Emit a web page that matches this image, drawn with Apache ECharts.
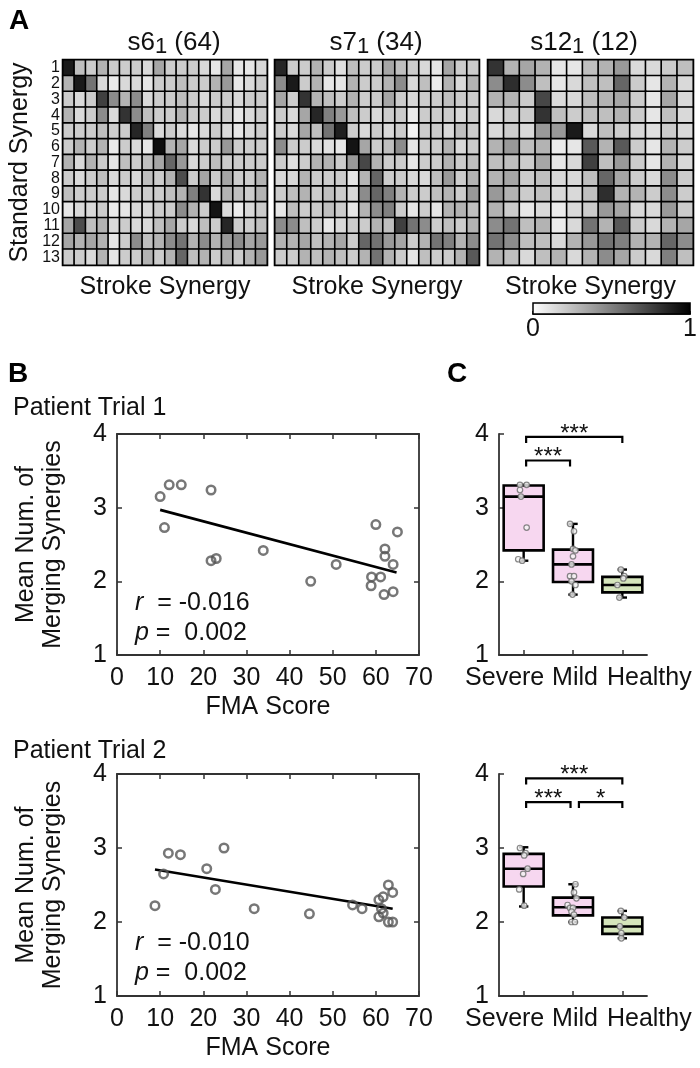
<!DOCTYPE html>
<html><head><meta charset="utf-8">
<script src="https://cdn.jsdelivr.net/npm/echarts@6/dist/echarts.min.js"></script>
<style>html,body{margin:0;padding:0;background:#fff}#c{width:700px;height:1068px}</style>
</head><body><div id="c"></div><script>
const FONT = "'Liberation Sans', Arial, Helvetica, sans-serif";

// ---------- Panel A: similarity matrices (rows = standard synergy 1..13) ----------
const synergyRows = ['1','2','3','4','5','6','7','8','9','10','11','12','13'];
const heatNames = ['s6', 's7', 's12'];
const heatCounts = [64, 34, 12];
const s6 = [
  [0.9,0.25,0.2,0.3,0.2,0.2,0.2,0.15,0.35,0.2,0.2,0.2,0.15,0.1,0.35,0.1,0.1,0.15],
  [0.3,0.9,0.55,0.15,0.08,0.15,0.15,0.1,0.2,0.2,0.25,0.2,0.2,0.3,0.4,0.1,0.15,0.2],
  [0.2,0.15,0.2,0.75,0.45,0.3,0.45,0.15,0.2,0.2,0.25,0.2,0.15,0.2,0.2,0.15,0.2,0.2],
  [0.3,0.15,0.2,0.45,0.15,0.8,0.45,0.25,0.2,0.2,0.3,0.2,0.2,0.15,0.2,0.1,0.15,0.2],
  [0.2,0.2,0.2,0.25,0.2,0.2,0.85,0.5,0.15,0.2,0.15,0.1,0.15,0.2,0.15,0.1,0.15,0.2],
  [0.2,0.3,0.2,0.3,0.08,0.2,0.15,0.1,0.95,0.3,0.35,0.15,0.2,0.2,0.4,0.2,0.2,0.2],
  [0.3,0.15,0.3,0.2,0.1,0.25,0.2,0.25,0.35,0.6,0.4,0.15,0.2,0.25,0.2,0.2,0.2,0.2],
  [0.2,0.15,0.2,0.25,0.15,0.2,0.15,0.25,0.2,0.3,0.7,0.2,0.35,0.2,0.35,0.2,0.2,0.3],
  [0.25,0.2,0.2,0.2,0.1,0.15,0.2,0.2,0.2,0.25,0.3,0.5,0.8,0.15,0.3,0.25,0.2,0.3],
  [0.1,0.15,0.15,0.2,0.08,0.1,0.15,0.15,0.2,0.2,0.45,0.3,0.2,0.92,0.15,0.08,0.15,0.2],
  [0.35,0.7,0.25,0.3,0.15,0.2,0.15,0.15,0.25,0.35,0.2,0.15,0.25,0.2,0.85,0.2,0.2,0.25],
  [0.35,0.3,0.35,0.3,0.1,0.2,0.45,0.25,0.3,0.45,0.55,0.3,0.45,0.3,0.4,0.45,0.35,0.4],
  [0.2,0.2,0.15,0.3,0.1,0.2,0.2,0.3,0.2,0.3,0.6,0.25,0.3,0.2,0.3,0.2,0.3,0.4]
];
const s7 = [
  [0.85,0.2,0.2,0.3,0.2,0.12,0.25,0.2,0.2,0.35,0.25,0.2,0.15,0.1,0.35,0.2,0.2],
  [0.45,0.9,0.2,0.3,0.1,0.1,0.3,0.2,0.2,0.3,0.45,0.15,0.25,0.08,0.3,0.15,0.3],
  [0.35,0.2,0.8,0.3,0.25,0.2,0.3,0.2,0.2,0.35,0.2,0.15,0.2,0.2,0.25,0.2,0.2],
  [0.2,0.15,0.35,0.85,0.5,0.4,0.25,0.2,0.15,0.2,0.2,0.08,0.2,0.2,0.2,0.15,0.2],
  [0.2,0.15,0.35,0.25,0.55,0.88,0.2,0.15,0.2,0.15,0.2,0.05,0.2,0.2,0.15,0.25,0.2],
  [0.45,0.2,0.2,0.15,0.12,0.1,0.92,0.35,0.2,0.25,0.45,0.1,0.2,0.2,0.3,0.15,0.2],
  [0.2,0.12,0.2,0.3,0.3,0.2,0.4,0.72,0.3,0.2,0.2,0.1,0.2,0.2,0.3,0.2,0.25],
  [0.15,0.15,0.3,0.2,0.2,0.2,0.1,0.3,0.6,0.2,0.2,0.15,0.15,0.25,0.4,0.2,0.3],
  [0.2,0.25,0.3,0.2,0.25,0.2,0.15,0.45,0.6,0.5,0.3,0.2,0.2,0.25,0.3,0.2,0.4],
  [0.1,0.25,0.2,0.2,0.25,0.2,0.1,0.3,0.45,0.5,0.2,0.1,0.2,0.1,0.3,0.3,0.25],
  [0.45,0.45,0.25,0.2,0.1,0.15,0.2,0.2,0.3,0.25,0.75,0.55,0.45,0.2,0.25,0.2,0.3],
  [0.3,0.3,0.35,0.25,0.3,0.35,0.2,0.6,0.55,0.4,0.35,0.2,0.3,0.55,0.5,0.3,0.45],
  [0.2,0.2,0.3,0.25,0.3,0.25,0.2,0.3,0.55,0.3,0.2,0.1,0.25,0.2,0.2,0.3,0.65]
];
const s12 = [
  [0.8,0.3,0.35,0.3,0.1,0.1,0.25,0.3,0.4,0.15,0.15,0.2,0.25],
  [0.45,0.82,0.45,0.25,0.1,0.15,0.25,0.25,0.6,0.2,0.1,0.3,0.15],
  [0.3,0.3,0.2,0.72,0.15,0.15,0.25,0.3,0.35,0.2,0.1,0.35,0.15],
  [0.15,0.2,0.2,0.8,0.25,0.2,0.25,0.25,0.3,0.2,0.1,0.25,0.15],
  [0.15,0.2,0.15,0.4,0.4,0.9,0.15,0.25,0.2,0.15,0.12,0.2,0.15],
  [0.3,0.4,0.25,0.3,0.08,0.1,0.65,0.3,0.65,0.2,0.1,0.3,0.2],
  [0.25,0.25,0.2,0.35,0.1,0.15,0.75,0.25,0.4,0.2,0.1,0.3,0.15],
  [0.3,0.35,0.2,0.25,0.15,0.15,0.25,0.6,0.35,0.2,0.15,0.45,0.2],
  [0.4,0.3,0.2,0.25,0.15,0.15,0.25,0.82,0.3,0.3,0.2,0.45,0.2],
  [0.3,0.2,0.1,0.15,0.08,0.15,0.2,0.4,0.35,0.15,0.15,0.4,0.2],
  [0.45,0.55,0.25,0.3,0.08,0.15,0.55,0.3,0.65,0.2,0.15,0.3,0.35],
  [0.55,0.45,0.25,0.25,0.15,0.3,0.4,0.55,0.5,0.3,0.3,0.6,0.45],
  [0.3,0.25,0.15,0.25,0.3,0.15,0.3,0.45,0.35,0.2,0.15,0.5,0.25]
];
const heatMatrices = [s6, s7, s12];

// ---------- Panel B: FMA score vs merging synergies ----------
const fmaT1   = [10.0,12.1,14.9,11.0,21.8,21.8,23.0,33.9,44.9,50.8,60.0,65.0,62.1,62.1,64.0,59.0,61.1,58.9,61.9,64.0];
const mergeT1 = [3.15,3.31,3.31,2.73,3.24,2.28,2.31,2.42,2.00,2.23,2.77,2.67,2.44,2.34,2.23,2.06,2.06,1.94,1.82,1.86];
const fitT1X = [10.0, 64.8];
const fitT1Y = [2.97, 2.12];
const statT1 = ['-0.016', '0.002'];

const fmaT2   = [8.8,10.8,11.9,14.7,20.8,22.8,24.8,31.8,44.6,54.6,56.8,62.9,63.9,61.7,60.7,60.7,61.7,62.9,63.9,61.3];
const mergeT2 = [2.22,2.65,2.93,2.91,2.72,2.44,3.00,2.18,2.11,2.23,2.18,2.50,2.40,2.34,2.30,2.07,2.12,2.00,2.00,2.18];
const fitT2X = [8.8, 63.9];
const fitT2Y = [2.71, 2.18];
const statT2 = ['-0.010', '0.002'];

// ---------- Panel C: group box plots [min, q1, median, q3, max] ----------
const groups = ['Severe', 'Mild', 'Healthy'];
const boxT1 = [[2.28,2.42,3.15,3.30,3.31],[1.82,1.99,2.23,2.43,2.78],[1.78,1.85,1.95,2.06,2.16]];
const boxT2 = [[2.21,2.48,2.72,2.92,3.01],[2.00,2.09,2.20,2.33,2.51],[1.78,1.84,1.94,2.06,2.15]];
// individual points (x = group index with jitter)
const ptsT1X = [-0.075,0.06,-0.075,-0.055,0.06,-0.11,-0.03, 0.94,1.02,1.0,1.05,1.0,0.97,0.94,1.02,0.97,1.05,0.99, 1.97,2.04,2.02,1.9,1.94];
const ptsT1Y = [3.31,3.31,3.24,3.15,2.73,2.30,2.28, 2.78,2.68,2.44,2.42,2.34,2.23,2.07,2.07,2.00,1.95,1.82, 2.16,2.07,2.04,1.95,1.78];
const ptsT2X = [-0.075,0.04,0.01,0.08,-0.01,-0.09,0.01, 1.05,1.02,1.07,0.89,0.94,1.0,0.97,1.02,0.97,1.04, 1.97,2.04,1.95,1.98,1.98];
const ptsT2Y = [3.00,2.93,2.90,2.72,2.65,2.44,2.22, 2.51,2.40,2.32,2.23,2.19,2.19,2.14,2.10,2.00,2.00, 2.15,2.06,1.94,1.85,1.78];
// significance brackets
const sigT1From = [0.05, 0.05], sigT1To = [2.0, 0.94], sigT1Y = [3.96, 3.64], sigT1Lab = ['***', '***'];
const sigT2From = [0.05, 0.05, 1.12], sigT2To = [2.0, 0.95, 2.0], sigT2Y = [3.94, 3.62, 3.62], sigT2Lab = ['***', '***', '*'];

// ---------- build option ----------
const axisColor = '#333';
const grids = [
  {left: 63, top: 60, width: 204, height: 205},
  {left: 275, top: 60, width: 204, height: 205},
  {left: 488, top: 60, width: 205, height: 205},
  {left: 117, top: 434, width: 302, height: 221},
  {left: 499, top: 434, width: 148, height: 221},
  {left: 117, top: 774, width: 302, height: 222},
  {left: 499, top: 774, width: 148, height: 222},
  {left: 533, top: 303, width: 160, height: 11}
];
const xAxes = [], yAxes = [], series = [];
const txt = (size) => ({color: '#111', fontSize: size, fontFamily: FONT});

// heatmaps
heatMatrices.forEach((m, gi) => {
  const cols = m[0].map((_, i) => String(i + 1));
  xAxes.push({type: 'category', gridIndex: gi, data: cols, axisLine: {show: false}, axisTick: {show: false},
    axisLabel: {show: false}, splitLine: {show: false},
    name: 'Stroke Synergy', nameLocation: 'middle', nameGap: 10, nameTextStyle: Object.assign(txt(25), {verticalAlign: 'top'})});
  yAxes.push({type: 'category', gridIndex: gi, data: synergyRows, inverse: true, axisLine: {show: false}, axisTick: {show: false},
    axisLabel: {show: gi === 0, ...txt(16), margin: 3, interval: 0, hideOverlap: false, lineHeight: 15},
    name: gi === 0 ? 'Standard Synergy' : '', nameLocation: 'middle', nameGap: 30, nameTextStyle: txt(25)});
  const data = [];
  m.forEach((row, r) => row.forEach((v, c) => data.push([c, r, v])));
  series.push({type: 'heatmap', xAxisIndex: gi, yAxisIndex: gi, data,
    itemStyle: {borderColor: '#000', borderWidth: 1.6}, emphasis: {disabled: true}, silent: true});
});
[0,1,2].forEach(i => { grids[i].show = true; grids[i].borderColor = '#000'; grids[i].borderWidth = 2.5; grids[i].backgroundColor = 'transparent'; });

function scatterAxes(gi) {
  const xi = xAxes.length, yi = yAxes.length;
  const line = {show: true, onZero: false, lineStyle: {color: axisColor, width: 1.8}};
  const tick = {show: true, inside: true, length: 5, lineStyle: {color: axisColor, width: 1.5}};
  xAxes.push({type: 'value', gridIndex: gi, position: 'bottom', min: 0, max: 70, interval: 10, axisLine: line, axisTick: tick,
    axisLabel: {...txt(25), margin: 11}, splitLine: {show: false},
    name: 'FMA Score', nameLocation: 'middle', nameGap: 40, nameTextStyle: Object.assign(txt(25), {verticalAlign: 'top'})});
  xAxes.push({type: 'value', gridIndex: gi, position: 'top', min: 0, max: 70, interval: 10, axisLine: line, axisTick: tick,
    axisLabel: {show: false}, splitLine: {show: false}});
  yAxes.push({type: 'value', gridIndex: gi, position: 'left', min: 1, max: 4, interval: 1, axisLine: line, axisTick: tick,
    axisLabel: {...txt(25), margin: 10}, splitLine: {show: false},
    name: 'Mean Num. of\nMerging Synergies', nameLocation: 'middle', nameGap: 50,
    nameTextStyle: Object.assign(txt(25), {lineHeight: 27})});
  yAxes.push({type: 'value', gridIndex: gi, position: 'right', min: 1, max: 4, interval: 1, axisLine: line, axisTick: tick,
    axisLabel: {show: false}, splitLine: {show: false}});
  return [xi, yi];
}
const groupKeys = ['sev', 'mild', 'hea'];
function boxAxes(gi) {
  const xi = xAxes.length, yi = yAxes.length;
  const line = {show: true, onZero: false, lineStyle: {color: axisColor, width: 1.8}};
  const tick = {show: true, inside: true, length: 5, alignWithLabel: true, lineStyle: {color: axisColor, width: 1.5}};
  const lab = {fontSize: 25, fontFamily: FONT, color: '#111'};
  xAxes.push({type: 'category', gridIndex: gi, data: groups, axisLine: line, axisTick: tick,
    axisLabel: {...txt(25), margin: 11, interval: 0, hideOverlap: false,
      formatter: (v, i) => '{' + groupKeys[i] + '|' + v + '}',
      rich: {sev: {...lab, padding: [0, 38, 0, 0]}, mild: {...lab, padding: [0, 0, 0, 4]}, hea: {...lab, padding: [0, 0, 0, 54]}}},
    splitLine: {show: false}});
  xAxes.push({type: 'value', gridIndex: gi, min: -0.5, max: 2.5, show: false});
  yAxes.push({type: 'value', gridIndex: gi, min: 1, max: 4, interval: 1, axisLine: line, axisTick: {show: true, inside: true, length: 5, lineStyle: {color: axisColor, width: 1.5}},
    axisLabel: {...txt(25), margin: 10}, splitLine: {show: false}});
  return [xi + 1, yi];
}

function addScatter(gi, fx, fy, lx, ly) {
  const [xi, yi] = scatterAxes(gi);
  series.push({type: 'line', xAxisIndex: xi, yAxisIndex: yi, data: lx.map((x, i) => [x, ly[i]]),
    showSymbol: false, symbol: 'none', lineStyle: {color: '#000', width: 2.6}, silent: true, z: 3});
  series.push({type: 'scatter', xAxisIndex: xi, yAxisIndex: yi, data: fx.map((x, i) => [x, fy[i]]),
    symbol: 'circle', symbolSize: 8.5, itemStyle: {color: 'rgba(255,255,255,0)', borderColor: '#555', borderWidth: 2.5}, silent: true, z: 4});
}
const PINK = '#f7d7f0', GREEN = '#d5e5bb';
function renderBox(params, api) {
  const x = api.value(0);
  const mn = api.value(1), q1 = api.value(2), md = api.value(3), q3 = api.value(4), mx = api.value(5);
  const w = api.size([0.81, 0])[0];
  const cap = api.size([0.19, 0])[0];
  const pMin = api.coord([x, mn]), pQ1 = api.coord([x, q1]), pMd = api.coord([x, md]), pQ3 = api.coord([x, q3]), pMax = api.coord([x, mx]);
  const cx = pMd[0];
  const ls = {stroke: '#000', lineWidth: 2.4};
  return {type: 'group', children: [
    {type: 'line', shape: {x1: cx, y1: pQ3[1], x2: cx, y2: pMax[1]}, style: ls},
    {type: 'line', shape: {x1: cx - cap / 2, y1: pMax[1], x2: cx + cap / 2, y2: pMax[1]}, style: ls},
    {type: 'line', shape: {x1: cx, y1: pQ1[1], x2: cx, y2: pMin[1]}, style: ls},
    {type: 'line', shape: {x1: cx - cap / 2, y1: pMin[1], x2: cx + cap / 2, y2: pMin[1]}, style: ls},
    {type: 'rect', shape: {x: cx - w / 2, y: pQ3[1], width: w, height: pQ1[1] - pQ3[1]},
      style: {fill: x === 2 ? GREEN : PINK, stroke: '#000', lineWidth: 2.6}},
    {type: 'line', shape: {x1: cx - w / 2, y1: pMd[1], x2: cx + w / 2, y2: pMd[1]}, style: {stroke: '#000', lineWidth: 2.6}}
  ]};
}
function makeBracket(labels) {
  return function (params, api) {
    const a = api.coord([api.value(0), api.value(2)]);
    const b = api.coord([api.value(1), api.value(2)]);
    const d = 6;
    return {type: 'group', children: [
      {type: 'polyline', shape: {points: [[a[0], a[1] + d], [a[0], a[1]], [b[0], b[1]], [b[0], b[1] + d]]},
        style: {stroke: '#000', lineWidth: 2.2, fill: 'none'}},
      {type: 'text', x: (a[0] + b[0]) / 2, y: a[1] + 9,
        style: {text: labels[params.dataIndex], fill: '#111', font: '24px ' + FONT, align: 'center', verticalAlign: 'bottom', textAlign: 'center', textVerticalAlign: 'bottom'}}
    ]};
  };
}
function addBox(gi, stats, px, py, sf, st, sy, sl) {
  const [xi, yi] = boxAxes(gi);
  series.push({type: 'custom', xAxisIndex: xi, yAxisIndex: yi, renderItem: renderBox,
    data: stats.map((s, i) => [i, ...s]), encode: {x: 0, y: [1, 2, 3, 4, 5]}, silent: true, z: 2});
  series.push({type: 'scatter', xAxisIndex: xi, yAxisIndex: yi, data: px.map((x, i) => [x, py[i]]),
    symbol: 'circle', symbolSize: 5.5, itemStyle: {color: '#f4f4f4', borderColor: '#6a6a6a', borderWidth: 1.2}, silent: true, z: 5});
  series.push({type: 'custom', xAxisIndex: xi, yAxisIndex: yi, renderItem: makeBracket(sl),
    data: sf.map((f, i) => [f, st[i], sy[i]]), encode: {x: [0, 1], y: 2}, silent: true, z: 6});
}

addScatter(3, fmaT1, mergeT1, fitT1X, fitT1Y);
addBox(4, boxT1, ptsT1X, ptsT1Y, sigT1From, sigT1To, sigT1Y, sigT1Lab);
addScatter(5, fmaT2, mergeT2, fitT2X, fitT2Y);
addBox(6, boxT2, ptsT2X, ptsT2Y, sigT2From, sigT2To, sigT2Y, sigT2Lab);

// colorbar
const cbX = xAxes.length, cbY = yAxes.length;
xAxes.push({type: 'value', gridIndex: 7, min: 0, max: 1, interval: 0.5,
  axisLine: {show: true, onZero: false, lineStyle: {color: '#000', width: 1.5}},
  axisTick: {show: true, inside: true, length: 3, lineStyle: {color: '#000', width: 1.5}},
  axisLabel: {...txt(25), margin: 3, formatter: v => (v === 0 || v === 1) ? String(v) : ''}, splitLine: {show: false}});
yAxes.push({type: 'value', gridIndex: 7, min: 0, max: 1, show: false});
series.push({type: 'custom', xAxisIndex: cbX, yAxisIndex: cbY, data: [[0, 0, 1, 1]], silent: true,
  renderItem: function (params, api) {
    const p0 = api.coord([api.value(0), api.value(3)]);
    const p1 = api.coord([api.value(2), api.value(1)]);
    return {type: 'rect', shape: {x: p0[0], y: p0[1], width: p1[0] - p0[0], height: p1[1] - p0[1]},
      style: {fill: new echarts.graphic.LinearGradient(0, 0, 1, 0, [{offset: 0, color: '#ffffff'}, {offset: 1, color: '#000000'}]),
        stroke: '#000', lineWidth: 1.5}};
  }});

function titleRich(name, count, cx) {
  return {type: 'text', x: cx, y: 43, style: {
    text: '{n|' + name + '}{s|1}{n| (' + count + ')}', align: 'center', verticalAlign: 'middle', textAlign: 'center', textVerticalAlign: 'middle',
    rich: {n: {fontSize: 26, fontFamily: FONT, lineHeight: 30, fill: '#111', color: '#111'},
           s: {fontSize: 22, fontFamily: FONT, lineHeight: 22, verticalAlign: 'bottom', fill: '#111', color: '#111'}}}};
}
function statText(stat, y) {
  return [
    {type: 'text', x: 135, y: y, style: {text: '{i|r}{n|  = ' + stat[0] + '}', verticalAlign: 'middle', textVerticalAlign: 'middle',
      rich: {i: {fontSize: 25, fontStyle: 'italic', fontFamily: FONT, fill: '#111'}, n: {fontSize: 25, fontFamily: FONT, fill: '#111'}}}},
    {type: 'text', x: 135, y: y + 30, style: {text: '{i|p}{n| =  ' + stat[1] + '}', verticalAlign: 'middle', textVerticalAlign: 'middle',
      rich: {i: {fontSize: 25, fontStyle: 'italic', fontFamily: FONT, fill: '#111'}, n: {fontSize: 25, fontFamily: FONT, fill: '#111'}}}}
  ];
}
const bold = (t, x, y) => ({type: 'text', x, y, style: {text: t, font: 'bold 28px ' + FONT, fill: '#000', verticalAlign: 'top', textVerticalAlign: 'top'}});
const plain = (t, x, y) => ({type: 'text', x, y, style: {text: t, font: '25px ' + FONT, fill: '#111', verticalAlign: 'middle', textVerticalAlign: 'middle'}});

const graphic = [
  bold('A', 9, 7), bold('B', 8, 360), bold('C', 447, 360),
  titleRich(heatNames[0], heatCounts[0], 174),
  titleRich(heatNames[1], heatCounts[1], 376),
  titleRich(heatNames[2], heatCounts[2], 584),
  plain('Patient Trial 1', 13, 408),
  plain('Patient Trial 2', 13, 751),
  ...statText(statT1, 603),
  ...statText(statT2, 943)
];

const option = {
  animation: false,
  backgroundColor: '#fff',
  textStyle: {fontFamily: FONT},
  grid: grids,
  xAxis: xAxes,
  yAxis: yAxes,
  visualMap: {show: false, type: 'continuous', min: 0, max: 1, dimension: 2, seriesIndex: [0, 1, 2],
    inRange: {color: ['#ffffff', '#000000']}},
  graphic,
  series
};
const chart = echarts.init(document.getElementById('c'), null, {renderer: 'canvas'});
chart.setOption(option);
</script></body></html>
